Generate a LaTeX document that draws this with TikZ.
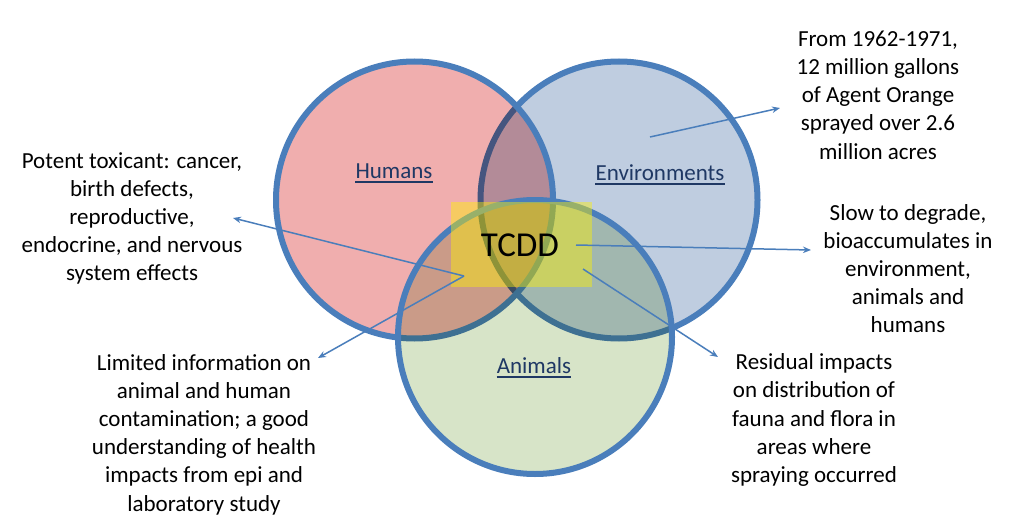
\documentclass[tikz,border=0pt]{standalone}
\usepackage{fontspec}
\setmainfont{Carlito}
\usetikzlibrary{arrows.meta}
\definecolor{hfill}{RGB}{240,174,174}
\definecolor{efill}{RGB}{191,205,224}
\definecolor{afill}{RGB}{215,228,200}
\definecolor{ringblue}{RGB}{74,126,187}
\definecolor{navy}{RGB}{31,56,100}
\begin{document}
\begin{tikzpicture}[x=1pt,y=-1pt,
  ring/.style={line width=6pt, draw=ringblue},
  note/.style={align=center, font=\fontsize{23}{28.2}\selectfont, inner sep=0pt},
  setlabel/.style={font=\fontsize{23}{28}\selectfont, text=navy, inner sep=0pt, anchor=base},
  uline/.style={draw=navy, line width=1.8pt},
  pointer/.style={draw=ringblue, line width=1.5pt, -{Stealth[length=8pt,width=6.5pt]}}]
\useasboundingbox (0,0) rectangle (1026,527);
\fill[white] (0,0) rectangle (1026,527);
% Environments
\begin{scope}[blend mode=multiply]
  \fill[efill] (619,200) circle[radius=138.5];
\end{scope}
\draw[ring] (619,200) circle[radius=138.5];
% Humans
\begin{scope}[blend mode=multiply]
  \fill[hfill] (414.5,200) circle[radius=138.5];
\end{scope}
\draw[ring] (414.5,200) circle[radius=138.5];
% Animals
\begin{scope}[blend mode=multiply]
  \fill[afill] (535,337) circle[radius=137];
\end{scope}
\draw[ring] (535,337) circle[radius=137];
\fill[yellow, opacity=0.43] (451,202) rectangle (592,287);
\node[font=\fontsize{35}{40}\selectfont, inner sep=0pt, anchor=base] (tcdd) at (520,256) {TCDD};
\node[setlabel] (hum) at (394,178) {Humans};
\node[setlabel] (env) at (660,180) {Environments};
\node[setlabel] (ani) at (534,373) {Animals};
\foreach \n in {hum,env,ani}
  \draw[uline] ([yshift=-4pt]\n.base west) -- ([yshift=-4pt]\n.base east);
\node[note] (from) at (878,95) {From 1962-1971,\\12 million gallons\\of Agent Orange\\sprayed over 2.6\\million acres};
\node[note] (slow) at (908,268.5) {Slow to degrade,\\bioaccumulates in\\environment,\\animals and\\humans};
\node[note] (potent) at (132,218.5) {Potent toxicant: cancer,\\birth defects,\\reproductive,\\endocrine, and nervous\\system effects};
\node[note] (limited) at (204,434.5) {Limited information on\\animal and human\\contamination; a good\\understanding of health\\impacts from epi and\\laboratory study};
\node[note] (resid) at (814,420) {Residual impacts\\on distribution of\\fauna and flora in\\areas where\\spraying occurred};
\coordinate (s1) at (576,245);
\coordinate (e1) at (811,250);
\coordinate (s2) at (650,137);
\coordinate (e2) at (780,108);
\coordinate (s3) at (464,276);
\coordinate (e3) at (233,218);
\coordinate (e4) at (318,358);
\coordinate (s5) at (583,269);
\coordinate (e5) at (718,357);
\draw[pointer] (s1) -- (e1);
\draw[pointer] (s2) -- (e2);
\draw[pointer] (s3) -- (e3);
\draw[pointer] (s3) -- (e4);
\draw[pointer] (s5) -- (e5);
\end{tikzpicture}
\end{document}
